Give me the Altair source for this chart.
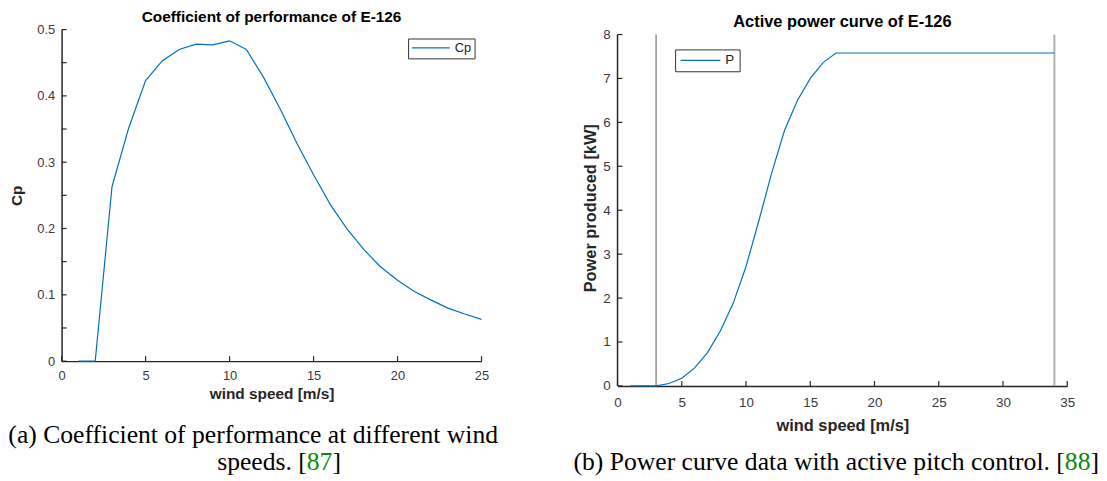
import altair as alt
import pandas as pd

# ---------------- data ----------------
cp_wind_speed = [1, 2, 3, 4, 5, 6, 7, 8, 9, 10, 11, 12, 13, 14, 15, 16, 17, 18, 19, 20, 21, 22, 23, 24, 25]
cp_value = [0, 0, 0.263, 0.352, 0.423, 0.453, 0.470, 0.478, 0.477, 0.483, 0.470, 0.429, 0.381,
            0.329, 0.281, 0.236, 0.199, 0.168, 0.142, 0.122, 0.105, 0.092, 0.080, 0.071, 0.063]

power_wind_speed = [1, 2, 3, 4, 5, 6, 7, 8, 9, 10, 11, 12, 13, 14, 15, 16, 17, 18, 19, 20, 21, 22,
                    23, 24, 25, 26, 27, 28, 29, 30, 31, 32, 33, 34]
power_value = [0, 0, 0, 0.055, 0.175, 0.41, 0.76, 1.25, 1.88, 2.72, 3.76, 4.85, 5.82, 6.5, 7.0, 7.36,
               7.58, 7.58, 7.58, 7.58, 7.58, 7.58, 7.58, 7.58, 7.58, 7.58, 7.58, 7.58, 7.58, 7.58,
               7.58, 7.58, 7.58, 7.58]

cut_in_speed = [3]
cut_out_speed = [34]

cp_x_ticks = [0, 5, 10, 15, 20, 25]
cp_y_ticks = [0, 0.05, 0.1, 0.15, 0.2, 0.25, 0.3, 0.35, 0.4, 0.45, 0.5]
power_x_ticks = [0, 5, 10, 15, 20, 25, 30, 35]
power_y_ticks = [0, 1, 2, 3, 4, 5, 6, 7, 8]

caption_a_line1 = ["(a) Coefficient of performance at different wind"]
caption_a_line2 = ["speeds. ["]
caption_a_ref = ["87"]
caption_b_text = ["(b) Power curve data with active pitch control. ["]
caption_b_ref = ["88"]
close_bracket = ["]"]

# ---------------- style ----------------
FONT = "Liberation Sans"
SERIF = "Liberation Serif"
AXIS_COLOR = "#262626"
LABEL_COLOR = "#3a3a3a"
LINE_COLOR = "#0072BD"
CITE_COLOR = "#0a8a0a"
CAP_SIZE = 25.8

W1, H1 = 423, 334
W2, H2 = 453, 354
EXTRA_TOP = 5  # right plot starts slightly lower than the left one
TICK = 5


def xaxis(values, title, lab_size, tit_size, lab_pad, tit_pad):
    return alt.Axis(values=values, title=title, grid=False, ticks=False, tickSize=0,
                    domainColor=AXIS_COLOR, domainWidth=1.5, labelColor=LABEL_COLOR,
                    labelFont=FONT, labelFontSize=lab_size, labelPadding=lab_pad,
                    labelFlush=False, labelOverlap=False, format="~g",
                    titleFont=FONT, titleFontSize=tit_size, titleFontWeight="bold",
                    titleColor=AXIS_COLOR, titlePadding=tit_pad)


def yaxis(values, title, lab_size, tit_size, lab_pad, tit_pad, domain=True):
    return alt.Axis(values=values, title=title, grid=False, ticks=False, tickSize=0,
                    domain=domain, domainColor=AXIS_COLOR, domainWidth=1.5,
                    labelColor=LABEL_COLOR, labelFont=FONT, labelFontSize=lab_size,
                    labelPadding=lab_pad, labelFlush=False, labelOverlap=False, format="~g",
                    titleFont=FONT, titleFontSize=tit_size, titleFontWeight="bold",
                    titleColor=AXIS_COLOR, titlePadding=tit_pad)


def legend(x, y, size, pad, lab_size):
    return alt.Legend(title=None, orient="none", legendX=x, legendY=y, symbolType="stroke",
                      symbolSize=size, symbolStrokeWidth=1.2, clipHeight=13,
                      labelFont=FONT, labelFontSize=lab_size, labelColor="#222222",
                      labelOffset=4, padding=pad, strokeColor="#333333", fillColor="white")


def text_layer(values, x, y, align, color):
    return alt.Chart(pd.DataFrame({"txt": values})).mark_text(
        font=SERIF, fontSize=CAP_SIZE, align=align, baseline="alphabetic", color=color
    ).encode(text="txt:N", x=alt.value(x), y=alt.value(y))


# ---------------- left panel ----------------
cp_df = pd.DataFrame({"speed": cp_wind_speed, "cp": cp_value, "series": "Cp"})

cp_line = alt.Chart(cp_df).mark_line(strokeWidth=1.2).encode(
    x=alt.X("speed:Q", scale=alt.Scale(domain=[cp_x_ticks[0], cp_x_ticks[-1]], nice=False, zero=False),
            axis=xaxis(cp_x_ticks, "wind speed [m/s]", 13, 15.5, 9, 4)),
    y=alt.Y("cp:Q", scale=alt.Scale(domain=[cp_y_ticks[0], cp_y_ticks[-1]], nice=False),
            axis=yaxis(cp_y_ticks, "Cp", 13, 15.5, 7, 12)),
    color=alt.Color("series:N", scale=alt.Scale(range=[LINE_COLOR]),
                    legend=legend(349, 9, 38 * 38, 3, 13)),
)

cp_xt = alt.Chart(pd.DataFrame({"t": cp_x_ticks})).mark_rule(color=AXIS_COLOR, strokeWidth=1.2).encode(
    x="t:Q", y=alt.value(H1), y2=alt.value(H1 - TICK))
cp_yt = alt.Chart(pd.DataFrame({"t": cp_y_ticks})).mark_rule(color=AXIS_COLOR, strokeWidth=1.2).encode(
    y="t:Q", x=alt.value(0), x2=alt.value(TICK))

a1 = text_layer(caption_a_line1, 193, 416, "center", "black")
a2 = text_layer(caption_a_line2, 247, 444, "right", "black")
a3 = text_layer(caption_a_ref, 247, 444, "left", CITE_COLOR)
a4 = text_layer(close_bracket, 247 + CAP_SIZE, 444, "left", "black")

left = alt.layer(cp_line, cp_xt, cp_yt, a1, a2, a3, a4).properties(
    width=W1, height=H1,
    title=alt.TitleParams("Coefficient of performance of E-126", font=FONT, fontSize=15.5,
                          fontWeight="bold", color="black", offset=-2, anchor="middle"),
)

# ---------------- right panel ----------------
p_df = pd.DataFrame({"speed": power_wind_speed, "p": power_value, "series": "P"})
y_top = power_y_ticks[-1] * (H2 + EXTRA_TOP) / H2

p_line = alt.Chart(p_df).mark_line(strokeWidth=1.2).encode(
    x=alt.X("speed:Q", scale=alt.Scale(domain=[power_x_ticks[0], power_x_ticks[-1]], nice=False, zero=False),
            axis=xaxis(power_x_ticks, "wind speed [m/s]", 13.5, 16.5, 10, 8)),
    y=alt.Y("p:Q", scale=alt.Scale(domain=[0, y_top], nice=False),
            axis=yaxis(power_y_ticks, "Power produced [kW]", 13.5, 16.5, 7.5, 4, domain=False)),
    color=alt.Color("series:N", scale=alt.Scale(range=[LINE_COLOR]),
                    legend=legend(58, 20, 40 * 40, 4.5, 13.5)),
)

p_yaxis_line = alt.Chart(pd.DataFrame({"a": [power_y_ticks[0]], "b": [power_y_ticks[-1]]})).mark_rule(
    color=AXIS_COLOR, strokeWidth=1.5).encode(x=alt.value(0), y="a:Q", y2="b:Q")

cut_in = alt.Chart(pd.DataFrame({"v": cut_in_speed, "a": [power_y_ticks[0]], "b": [power_y_ticks[-1]]})).mark_rule(
    color="#555555", strokeWidth=1).encode(x="v:Q", y="a:Q", y2="b:Q")
cut_out = alt.Chart(pd.DataFrame({"v": cut_out_speed, "a": [power_y_ticks[0]], "b": [power_y_ticks[-1]]})).mark_rule(
    color="#b0b0b0", strokeWidth=2).encode(x="v:Q", y="a:Q", y2="b:Q")

p_xt = alt.Chart(pd.DataFrame({"t": power_x_ticks})).mark_rule(color=AXIS_COLOR, strokeWidth=1.2).encode(
    x="t:Q", y=alt.value(H2 + EXTRA_TOP), y2=alt.value(H2 + EXTRA_TOP - TICK))
p_yt = alt.Chart(pd.DataFrame({"t": power_y_ticks})).mark_rule(color=AXIS_COLOR, strokeWidth=1.2).encode(
    y="t:Q", x=alt.value(0), x2=alt.value(TICK))

CAP_B_END = 485
b1 = text_layer(caption_b_text, CAP_B_END - 0.333 * CAP_SIZE - CAP_SIZE, 444, "right", "black")
b2 = text_layer(caption_b_ref, CAP_B_END - 0.333 * CAP_SIZE, 444, "right", CITE_COLOR)
b3 = text_layer(close_bracket, CAP_B_END, 444, "right", "black")

right = alt.layer(cut_in, cut_out, p_line, p_yaxis_line, p_xt, p_yt, b1, b2, b3).properties(
    width=W2, height=H2 + EXTRA_TOP,
    title=alt.TitleParams("Active power curve of E-126", font=FONT, fontSize=16.5,
                          fontWeight="bold", color="black", offset=-3, anchor="middle"),
)

chart = alt.hconcat(left, right, spacing=137, bounds="flush").resolve_scale(
    color="independent"
).resolve_legend(
    color="independent"
).configure_view(
    stroke=None
).properties(
    padding={"left": 0, "top": 0, "right": 0, "bottom": 0},
    background="white",
)

chart.save("out.html", embed_options={"renderer": "svg", "actions": False})
